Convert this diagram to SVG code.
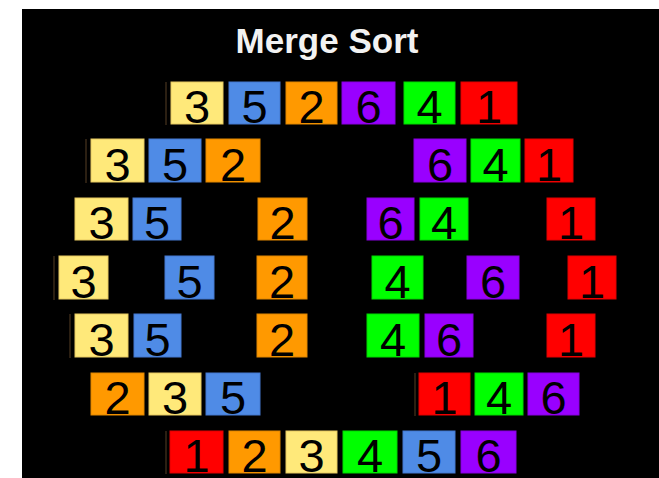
<svg xmlns="http://www.w3.org/2000/svg" width="659" height="478" viewBox="0 0 659 478">
<style>
.bg{fill:#000}
.t{font-family:"Liberation Sans",Arial,sans-serif;font-weight:bold;font-size:35px;fill:#f2f2f2;text-anchor:middle}
.d{font-family:"Liberation Sans",Arial,sans-serif;font-size:47px;fill:#000;text-anchor:middle}
.y{fill:#ffe97a;stroke:#e6c860;stroke-width:1}
.b{fill:#4f8be6;stroke:#4478d0;stroke-width:1}
.o{fill:#ff9900;stroke:#e08600;stroke-width:1}
.p{fill:#9900ff;stroke:#8800e0;stroke-width:1}
.g{fill:#00ff00;stroke:#00d800;stroke-width:1}
.r{fill:#ff0000;stroke:#e00000;stroke-width:1}
.ln{stroke:#3a2a18;stroke-width:1.5}
</style>
<rect x="0" y="0" width="659" height="478" fill="#fff"/>
<rect class="bg" x="22" y="9" width="637" height="469"/>
<text class="t" x="327" y="53">Merge Sort</text>
<g id="connectors">
<line class="ln" x1="166" y1="82" x2="166" y2="125"/>
<line class="ln" x1="86" y1="139" x2="86" y2="183"/>
<line class="ln" x1="54" y1="256" x2="54" y2="300"/>
<line class="ln" x1="70" y1="314" x2="70" y2="358"/>
<line class="ln" x1="415" y1="373" x2="415" y2="416" stroke="#5a1010"/>
<line class="ln" x1="166" y1="431" x2="166" y2="474"/>
</g>
<!-- row 1 -->
<g id="r1-3"><rect class="y" x="171" y="82" width="52" height="42"/><text class="d" x="197" y="123">3</text></g>
<g id="r1-5"><rect class="b" x="229" y="82" width="51" height="42"/><text class="d" x="254.5" y="123">5</text></g>
<g id="r1-2"><rect class="o" x="286" y="82" width="51" height="42"/><text class="d" x="311.5" y="123">2</text></g>
<g id="r1-6"><rect class="p" x="342" y="82" width="53" height="42"/><text class="d" x="368.5" y="123">6</text></g>
<g id="r1-4"><rect class="g" x="404" y="82" width="51" height="42"/><text class="d" x="429.5" y="123">4</text></g>
<g id="r1-1"><rect class="r" x="461" y="82" width="56" height="42"/><text class="d" x="489" y="123">1</text></g>
<!-- row 2 -->
<g id="r2-3"><rect class="y" x="91" y="139" width="53" height="43"/><text class="d" x="117.5" y="181">3</text></g>
<g id="r2-5"><rect class="b" x="149" y="139" width="52" height="43"/><text class="d" x="175" y="181">5</text></g>
<g id="r2-2"><rect class="o" x="206" y="139" width="54" height="43"/><text class="d" x="233" y="181">2</text></g>
<g id="r2-6"><rect class="p" x="414" y="139" width="52" height="43"/><text class="d" x="440" y="181">6</text></g>
<g id="r2-4"><rect class="g" x="471" y="139" width="49" height="43"/><text class="d" x="495.5" y="181">4</text></g>
<g id="r2-1"><rect class="r" x="525" y="139" width="48" height="43"/><text class="d" x="549" y="181">1</text></g>
<!-- row 3 -->
<g id="r3-3"><rect class="y" x="75" y="198" width="53" height="42"/><text class="d" x="101.5" y="239">3</text></g>
<g id="r3-5"><rect class="b" x="133" y="198" width="48" height="42"/><text class="d" x="157" y="239">5</text></g>
<g id="r3-2"><rect class="o" x="258" y="198" width="49" height="42"/><text class="d" x="282.5" y="239">2</text></g>
<g id="r3-6"><rect class="p" x="367" y="198" width="47" height="42"/><text class="d" x="390.5" y="239">6</text></g>
<g id="r3-4"><rect class="g" x="420" y="198" width="48" height="42"/><text class="d" x="444" y="239">4</text></g>
<g id="r3-1"><rect class="r" x="547" y="198" width="48" height="42"/><text class="d" x="571" y="239">1</text></g>
<!-- row 4 -->
<g id="r4-3"><rect class="y" x="59" y="256" width="49" height="43"/><text class="d" x="83.5" y="298">3</text></g>
<g id="r4-5"><rect class="b" x="165" y="256" width="49" height="43"/><text class="d" x="189.5" y="298">5</text></g>
<g id="r4-2"><rect class="o" x="257" y="256" width="50" height="43"/><text class="d" x="282" y="298">2</text></g>
<g id="r4-4"><rect class="g" x="372" y="256" width="51" height="43"/><text class="d" x="397.5" y="298">4</text></g>
<g id="r4-6"><rect class="p" x="467" y="256" width="52" height="43"/><text class="d" x="493" y="298">6</text></g>
<g id="r4-1"><rect class="r" x="568" y="256" width="48" height="43"/><text class="d" x="592" y="298">1</text></g>
<!-- row 5 -->
<g id="r5-3"><rect class="y" x="75" y="314" width="53" height="43"/><text class="d" x="101.5" y="356">3</text></g>
<g id="r5-5"><rect class="b" x="134" y="314" width="47" height="43"/><text class="d" x="157.5" y="356">5</text></g>
<g id="r5-2"><rect class="o" x="257" y="314" width="50" height="43"/><text class="d" x="282" y="356">2</text></g>
<g id="r5-4"><rect class="g" x="367" y="314" width="52" height="43"/><text class="d" x="393" y="356">4</text></g>
<g id="r5-6"><rect class="p" x="425" y="314" width="48" height="43"/><text class="d" x="449" y="356">6</text></g>
<g id="r5-1"><rect class="r" x="547" y="314" width="48" height="43"/><text class="d" x="571" y="356">1</text></g>
<!-- row 6 -->
<g id="r6-2"><rect class="o" x="91" y="373" width="53" height="42"/><text class="d" x="117.5" y="414">2</text></g>
<g id="r6-3"><rect class="y" x="149" y="373" width="52" height="42"/><text class="d" x="175" y="414">3</text></g>
<g id="r6-5"><rect class="b" x="206" y="373" width="54" height="42"/><text class="d" x="233" y="414">5</text></g>
<g id="r6-1"><rect class="r" x="419" y="373" width="51" height="42"/><text class="d" x="444.5" y="414">1</text></g>
<g id="r6-4"><rect class="g" x="475" y="373" width="48" height="42"/><text class="d" x="499" y="414">4</text></g>
<g id="r6-6"><rect class="p" x="528" y="373" width="51" height="42"/><text class="d" x="553.5" y="414">6</text></g>
<!-- row 7 -->
<g id="r7-1"><rect class="r" x="170" y="431" width="53" height="42"/><text class="d" x="196.5" y="472">1</text></g>
<g id="r7-2"><rect class="o" x="229" y="431" width="51" height="42"/><text class="d" x="254.5" y="472">2</text></g>
<g id="r7-3"><rect class="y" x="286" y="431" width="51" height="42"/><text class="d" x="311.5" y="472">3</text></g>
<g id="r7-4"><rect class="g" x="343" y="431" width="54" height="42"/><text class="d" x="370" y="472">4</text></g>
<g id="r7-5"><rect class="b" x="403" y="431" width="52" height="42"/><text class="d" x="429" y="472">5</text></g>
<g id="r7-6"><rect class="p" x="461" y="431" width="55" height="42"/><text class="d" x="488.5" y="472">6</text></g>
</svg>
